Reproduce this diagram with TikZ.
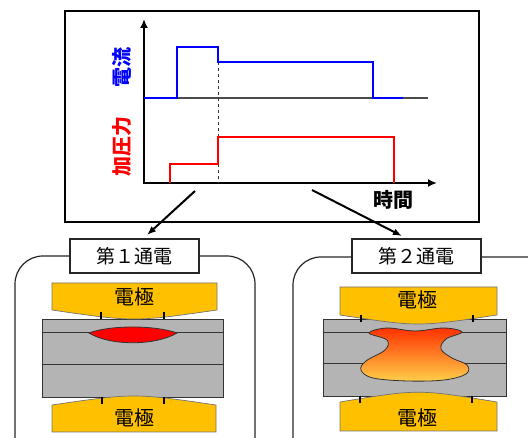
\documentclass[tikz,border=0pt]{standalone}
\usepackage{fontspec}
\setmainfont{Noto Sans CJK JP}
\usepackage{tikz}
\usetikzlibrary{arrows.meta, positioning, calc}
\definecolor{ElecGold}{HTML}{FFC000}
\definecolor{PlateGray}{HTML}{B4B4B4}
\definecolor{NuggetTop}{HTML}{FF3000}
\definecolor{NuggetBot}{HTML}{FFCF4A}
\definecolor{CurBlue}{HTML}{0000FF}
\definecolor{ForceRed}{HTML}{FF0000}

\tikzset{
  axis/.style={line width=2.6pt, -{Latex[length=9pt,width=8pt]}},
  pulse/.style={line width=2.6pt},
  link/.style={line width=2pt, -{Latex[length=9pt,width=7pt]}},
  ylab/.style={rotate=90, font=\fontsize{20}{20}\selectfont\bfseries},
  tagbox/.style={draw=black!85, fill=white, line width=1.1pt, minimum width=129pt,
    minimum height=34pt, inner sep=0pt, font=\fontsize{19}{19}\selectfont},
  elec/.style={fill=ElecGold, draw=black!55, line width=0.7pt},
  plate/.style={fill=PlateGray, draw=black!80, line width=0.9pt},
  eleclab/.style={font=\fontsize{20}{20}\selectfont},
  panel/.style={draw=black!85, line width=1.2pt, rounded corners=28pt}
}

\begin{document}
\begin{tikzpicture}[x=1pt, y=-1pt]
\useasboundingbox (0,0) rectangle (528,438);
\clip (0,0) rectangle (528,438);

% --- Timing chart: current and electrode force ---
\draw[line width=2.6pt] (65,11) rectangle (479,222);
\coordinate (O) at (144,183);
\coordinate (ytop) at (144,19);
\coordinate (xend) at (437,183);
\draw[axis] (O) -- (ytop);
\draw[axis] (143,183) -- (xend);
\draw[line width=1.5pt, black!70] (144,98) -- (428,98);
\draw[dashed, line width=0.6pt, black!80] (218,62) -- (218,183);
% current pulse (two stages)
\draw[pulse, CurBlue] (144,98) -- (177,98) -- (177,47) -- (218,47) -- (218,62)
  -- (373,62) -- (373,98) -- (403,98);
% force steps up at the second stage
\draw[pulse, ForceRed] (170,183) -- (170,164) -- (218,164) -- (218,137)
  -- (394,137) -- (394,183);
\node[ylab, text=CurBlue] (cur) at (122,68) {電流};
\node[ylab, text=ForceRed] (force) at (122,147) {加圧力};
\node[font=\fontsize{20}{20}\selectfont\bfseries] (time) at (393,200) {時間};

% --- Panel (1): first current ---
\draw[panel] (15,470) -- (15,256) -- (255,256) -- (255,470);
\node[tagbox] (tag1) at (134.5,256) {第１通電};
\draw[plate] (42,319) rectangle (223,397);
\draw[black!80, line width=0.9pt] (42,332) -- (223,332);
\draw[black!80, line width=0.9pt] (42,364) -- (223,364);
% small molten lens at the upper interface
\draw[fill=ForceRed, draw=black!80, line width=0.8pt]
  (89,333) .. controls (110,325) and (155,325) .. (177,333)
  .. controls (155,346) and (110,346) .. cycle;
\draw[elec] (52,283) -- (217,283) -- (217,310) .. controls (134,322) .. (52,310) -- cycle;
\draw[elec] (52,405) .. controls (134,393) .. (216,405) -- (216,432) -- (52,432) -- cycle;
\draw[line width=1.1pt] (101,312) -- (101,319) (164,312) -- (164,319);
\draw[line width=1.1pt] (102,397) -- (102,404) (164,397) -- (164,404);
\node[eleclab] (e1top) at (134,297) {電極};
\node[eleclab] (e1bot) at (134,418) {電極};

% --- Panel (2): second current ---
\draw[panel] (293,470) -- (293,257) -- (570,257);
\node[tagbox] (tag2) at (416.5,256) {第２通電};
\draw[plate] (323,319) rectangle (506,396);
\draw[black!80, line width=0.9pt] (323,332) -- (506,332);
\draw[black!80, line width=0.9pt] (323,363) -- (506,363);
% grown nugget through both sheets
\shade[top color=NuggetTop, bottom color=NuggetBot, draw=black!80, line width=0.8pt]
  plot[smooth cycle, tension=0.6] coordinates {
    (369,333) (387,328) (415,331) (444,328) (462,332) (446,339) (441,349)
    (452,358) (467,365) (466,374) (444,380) (408,381) (373,378) (361,370)
    (366,361) (385,350) (387,340)};
\draw[elec] (340,287) -- (497,287) -- (497,315) .. controls (418,327) .. (340,315) -- cycle;
\draw[elec] (340,402) .. controls (418,389) .. (497,402) -- (497,431) -- (340,431) -- cycle;
\draw[line width=1.1pt] (361,315) -- (361,322) (473,315) -- (473,322);
\draw[line width=1.1pt] (360,396) -- (360,403) (472,396) -- (472,403);
\node[eleclab] (e2top) at (417,300) {電極};
\node[eleclab] (e2bot) at (417,418) {電極};

% --- links from the chart to the panels ---
\coordinate (s1) at (195,191);
\coordinate (t1) at (147,235);
\coordinate (s2) at (312,190);
\coordinate (t2) at (402,236);
\draw[link] (s1) -- (t1);
\draw[link] (s2) -- (t2);
\end{tikzpicture}
\end{document}
